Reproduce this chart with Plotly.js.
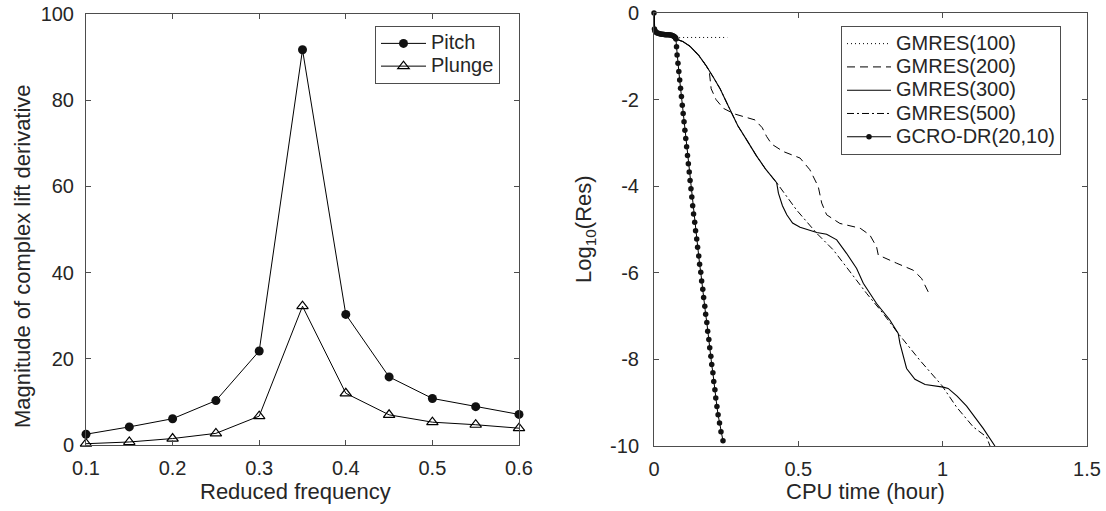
<!DOCTYPE html>
<html>
<head>
<meta charset="utf-8">
<script src="https://cdn.plot.ly/plotly-3.0.1.min.js"></script>
<style>
html,body{margin:0;padding:0;background:#fff;}
#chart{width:1106px;height:511px;}
</style>
</head>
<body>
<div id="chart"></div>
<script>
// ---------- Left panel data ----------
const freq = [0.1, 0.15, 0.2, 0.25, 0.3, 0.35, 0.4, 0.45, 0.5, 0.55, 0.6];
const pitch = [2.5, 4.2, 6.1, 10.3, 21.8, 91.7, 30.3, 15.8, 10.8, 8.9, 7.1];
const plunge = [0.3, 0.7, 1.5, 2.7, 6.7, 32.2, 12.0, 7.0, 5.3, 4.7, 3.9];
const leftNames = ["Pitch", "Plunge"];
const leftXTicks = [0.1, 0.2, 0.3, 0.4, 0.5, 0.6];
const leftXTickText = ["0.1", "0.2", "0.3", "0.4", "0.5", "0.6"];
const leftYTicks = [0, 20, 40, 60, 80, 100];
const leftYTickText = ["0", "20", "40", "60", "80", "100"];
const leftXTitle = "Reduced frequency";
const leftYTitle = "Magnitude of complex lift derivative";

// ---------- Right panel data ----------
const g100_x = [0, 0.001, 0.005, 0.015, 0.03, 0.05, 0.065, 0.076, 0.1, 0.254];
const g100_y = [0, -0.37, -0.43, -0.47, -0.49, -0.5, -0.53, -0.58, -0.565, -0.565];

const g200_x = [0, 0.001, 0.005, 0.015, 0.03, 0.05, 0.065, 0.076, 0.1, 0.125, 0.155, 0.182, 0.192, 0.198, 0.215, 0.24, 0.278, 0.35, 0.375, 0.39, 0.408, 0.448, 0.506, 0.54, 0.569, 0.581, 0.598, 0.644, 0.714, 0.748, 0.771, 0.777, 0.841, 0.898, 0.927, 0.95];
const g200_y = [0, -0.37, -0.43, -0.47, -0.49, -0.5, -0.53, -0.6, -0.66, -0.77, -0.98, -1.23, -1.38, -1.75, -2.0, -2.2, -2.33, -2.47, -2.65, -2.85, -3.03, -3.2, -3.35, -3.62, -4.01, -4.39, -4.66, -4.86, -4.97, -5.13, -5.4, -5.59, -5.78, -5.94, -6.13, -6.44];

const g300_x = [0, 0.001, 0.005, 0.015, 0.03, 0.05, 0.065, 0.076, 0.1, 0.125, 0.155, 0.182, 0.205, 0.229, 0.254, 0.29, 0.321, 0.355, 0.386, 0.425, 0.431, 0.445, 0.46, 0.48, 0.506, 0.564, 0.598, 0.633, 0.667, 0.702, 0.725, 0.771, 0.817, 0.846, 0.852, 0.875, 0.904, 0.939, 1.002, 1.019, 1.05, 1.083, 1.141, 1.181];
const g300_y = [0, -0.37, -0.43, -0.47, -0.49, -0.5, -0.53, -0.6, -0.66, -0.77, -0.98, -1.23, -1.48, -1.75, -2.1, -2.6, -2.93, -3.3, -3.6, -3.92, -4.16, -4.45, -4.66, -4.85, -4.95, -5.07, -5.11, -5.24, -5.55, -5.9, -6.24, -6.71, -7.09, -7.4, -7.63, -8.21, -8.46, -8.58, -8.64, -8.67, -8.85, -9.08, -9.6, -10.0];

const g500_x = [0, 0.001, 0.005, 0.015, 0.03, 0.05, 0.065, 0.076, 0.1, 0.125, 0.155, 0.182, 0.205, 0.229, 0.254, 0.29, 0.321, 0.355, 0.386, 0.425, 0.494, 0.564, 0.621, 0.679, 0.737, 0.794, 0.846, 0.921, 0.997, 1.048, 1.106, 1.152, 1.164];
const g500_y = [0, -0.37, -0.43, -0.47, -0.49, -0.5, -0.53, -0.6, -0.66, -0.77, -0.98, -1.23, -1.48, -1.75, -2.1, -2.6, -2.93, -3.3, -3.6, -3.92, -4.55, -5.09, -5.47, -5.98, -6.48, -6.94, -7.4, -8.02, -8.6, -9.1, -9.56, -9.79, -10.0];

const gcro_x = [0, 0.0015, 0.003, 0.005, 0.008, 0.011, 0.015, 0.019, 0.023, 0.027, 0.031, 0.035, 0.039, 0.043, 0.047, 0.051, 0.055, 0.059, 0.063, 0.067, 0.07, 0.073, 0.075,
  0.076, 0.078, 0.080, 0.083, 0.086, 0.089, 0.092, 0.095, 0.098, 0.101, 0.104, 0.107, 0.110, 0.113, 0.116, 0.119, 0.122, 0.125, 0.128, 0.131, 0.134, 0.137, 0.141, 0.144, 0.148, 0.151, 0.155, 0.158, 0.162, 0.165, 0.169, 0.172, 0.176, 0.179, 0.183, 0.186, 0.190, 0.193, 0.197, 0.200, 0.204, 0.207, 0.211, 0.214, 0.218, 0.222, 0.227, 0.232, 0.239];
const gcro_y = [0, -0.37, -0.41, -0.43, -0.45, -0.46, -0.47, -0.48, -0.485, -0.49, -0.49, -0.495, -0.5, -0.5, -0.5, -0.505, -0.51, -0.51, -0.52, -0.53, -0.54, -0.56, -0.58,
  -0.6, -0.78, -0.97, -1.16, -1.35, -1.55, -1.74, -1.93, -2.13, -2.32, -2.51, -2.71, -2.9, -3.09, -3.29, -3.48, -3.67, -3.87, -4.06, -4.25, -4.45, -4.64, -4.83, -5.03, -5.22, -5.41, -5.61, -5.8, -5.99, -6.19, -6.38, -6.57, -6.77, -6.96, -7.15, -7.35, -7.54, -7.73, -7.93, -8.12, -8.31, -8.51, -8.7, -8.89, -9.09, -9.28, -9.47, -9.67, -9.88];

const rightNames = ["GMRES(100)", "GMRES(200)", "GMRES(300)", "GMRES(500)", "GCRO-DR(20,10)"];
const rightXTicks = [0, 0.5, 1, 1.5];
const rightXTickText = ["0", "0.5", "1", "1.5"];
const rightYTicks = [0, -2, -4, -6, -8, -10];
const rightYTickText = ["0", "-2", "-4", "-6", "-8", "-10"];
const rightXTitle = "CPU time (hour)";
const rightYTitle = "Log<sub>10</sub>(Res)";

// ---------- Styling ----------
const FONT = "Liberation Sans, Arial, Helvetica, sans-serif";
const TXT = "#262626";
const AX = "#4d4d4d";
const W = 1106, H = 511;
const TICK_SIZE = 20, TITLE_SIZE = 22, LEG_SIZE = 20;

function legName(s) { return '<span style="font-size:' + LEG_SIZE + 'px">' + s + '</span>'; }

function axisBase() {
  return {
    showgrid: false, zeroline: false,
    showline: true, linecolor: AX, linewidth: 1, mirror: 'ticks',
    ticks: 'inside', ticklen: 5, tickwidth: 1, tickcolor: AX,
    tickfont: {family: FONT, size: TICK_SIZE, color: TXT},
    tickmode: 'array', fixedrange: true
  };
}

const traces = [
  {x: freq, y: pitch, name: legName(leftNames[0]), xaxis: 'x', yaxis: 'y', mode: 'lines+markers',
   line: {color: '#000', width: 1}, marker: {symbol: 'circle', size: 9, color: '#111'},
   cliponaxis: false, legend: 'legend'},
  {x: freq, y: plunge, name: legName(leftNames[1]), xaxis: 'x', yaxis: 'y', mode: 'lines+markers',
   line: {color: '#000', width: 1}, marker: {symbol: 'triangle-up-open', size: 10, color: '#000', line: {width: 1.2, color: '#000'}},
   cliponaxis: false, legend: 'legend'},
  {x: g100_x, y: g100_y, name: legName(rightNames[0]), xaxis: 'x2', yaxis: 'y2', mode: 'lines',
   line: {color: '#000', width: 1, dash: '1px,3px'}, legend: 'legend2'},
  {x: g200_x, y: g200_y, name: legName(rightNames[1]), xaxis: 'x2', yaxis: 'y2', mode: 'lines',
   line: {color: '#000', width: 1, dash: '8px,5px'}, legend: 'legend2'},
  {x: g300_x, y: g300_y, name: legName(rightNames[2]), xaxis: 'x2', yaxis: 'y2', mode: 'lines',
   line: {color: '#000', width: 1.1}, legend: 'legend2'},
  {x: g500_x, y: g500_y, name: legName(rightNames[3]), xaxis: 'x2', yaxis: 'y2', mode: 'lines',
   line: {color: '#000', width: 1, dash: '7px,3px,2px,3px'}, legend: 'legend2'},
  {x: gcro_x, y: gcro_y, name: legName(rightNames[4]), xaxis: 'x2', yaxis: 'y2', mode: 'lines+markers',
   line: {color: '#000', width: 1}, marker: {symbol: 'circle', size: 5.5, color: '#111'},
   cliponaxis: false, legend: 'legend2'}
];

function titleAnn(text, x, y, angle) {
  return {text: text, x: x / W, y: 1 - y / H, xref: 'paper', yref: 'paper',
          xanchor: 'center', yanchor: 'middle', showarrow: false, textangle: angle,
          font: {family: FONT, size: TITLE_SIZE, color: TXT}};
}

const layout = {
  width: W, height: H,
  margin: {l: 0, r: 0, t: 0, b: 0},
  paper_bgcolor: '#fff', plot_bgcolor: '#fff',
  font: {family: FONT, color: TXT, size: 18},
  xaxis: Object.assign(axisBase(), {
    domain: [86 / W, 519 / W], range: [0.1, 0.6], anchor: 'y',
    tickvals: leftXTicks, ticktext: leftXTickText, ticklabelstandoff: 5
  }),
  yaxis: Object.assign(axisBase(), {
    domain: [(H - 445) / H, (H - 14) / H], range: [0, 100], anchor: 'x',
    tickvals: leftYTicks, ticktext: leftYTickText, ticklabelstandoff: 7
  }),
  xaxis2: Object.assign(axisBase(), {
    domain: [654 / W, 1087 / W], range: [0, 1.5], anchor: 'y2',
    tickvals: rightXTicks, ticktext: rightXTickText, ticklabelstandoff: 5
  }),
  yaxis2: Object.assign(axisBase(), {
    domain: [(H - 446) / H, (H - 13) / H], range: [-10, 0], anchor: 'x2',
    tickvals: rightYTicks, ticktext: rightYTickText, ticklabelstandoff: 10
  }),
  annotations: [
    titleAnn(leftXTitle, 295, 491, 0),
    titleAnn(leftYTitle, 22, 256, -90),
    titleAnn(rightXTitle, 865, 491, 0),
    titleAnn(rightYTitle, 585, 229, -90)
  ],
  showlegend: true,
  legend: {
    x: 375 / W, y: 1 - 26 / H, xanchor: 'left', yanchor: 'top',
    bgcolor: '#fff', bordercolor: AX, borderwidth: 1,
    font: {family: FONT, size: 15.2, color: TXT}, itemwidth: 45, tracegroupgap: 0
  },
  legend2: {
    x: 841 / W, y: 1 - 26 / H, xanchor: 'left', yanchor: 'top',
    bgcolor: '#fff', bordercolor: AX, borderwidth: 1,
    font: {family: FONT, size: 15.6, color: TXT}, itemwidth: 44, tracegroupgap: 0
  }
};

Plotly.newPlot('chart', traces, layout, {displayModeBar: false, staticPlot: true});
</script>
</body>
</html>
